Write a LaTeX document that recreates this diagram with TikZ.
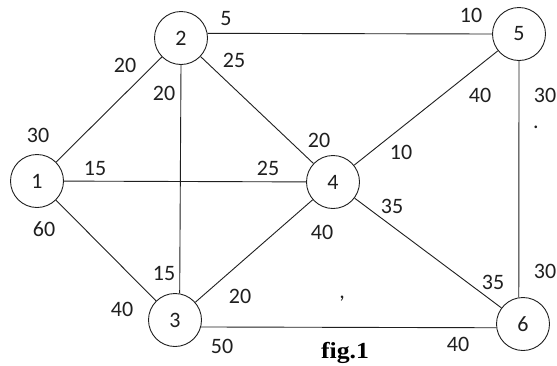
\documentclass[tikz,border=0pt]{standalone}
\usepackage{fontspec}
\setmainfont{Carlito}
\newfontfamily\figfont[FakeStretch=1.12]{Liberation Serif}
\definecolor{ink}{gray}{0.12}
\begin{document}
\begin{tikzpicture}[x=1pt,y=-1pt,
  vtx/.style={circle,draw=ink,line width=0.9pt,minimum size=53pt,inner sep=0pt,text=ink,font=\fontsize{22}{22}\selectfont},
  edge/.style={draw=ink,line width=0.9pt},
  wt/.style={text=ink,font=\fontsize{22}{22}\selectfont,inner sep=0pt}]
\useasboundingbox[fill=white] (0,0) rectangle (557,365);
% vertices
\node[vtx] (n1) at (37,181) {1};
\node[vtx] (n2) at (181,38) {2};
\node[vtx] (n3) at (175,320) {3};
\node[vtx] (n4) at (333,182) {4};
\node[vtx] (n5) at (519,34) {5};
\node[vtx] (n6) at (523,324) {6};
% edges
\draw[edge] (n1) -- (n2);
\draw[edge] (n2.10) -- (n5.west);
\draw[edge] (n2.south) -- (n3.80);
\draw[edge] (n2) -- (n4);
\draw[edge] (n1) -- (n4);
\draw[edge] (n1) -- (n3);
\draw[edge] (n4) -- (n5);
\draw[edge] (n5.south) -- (n6.99);
\draw[edge] (n3) -- (n4);
\draw[edge] (n4) -- (n6);
\draw[edge] (n3.-15) -- (n6.-172);
% weights
\node[wt] (w1) at (226,19) {5};
\node[wt] (w2) at (125,65) {20};
\node[wt] (w3) at (234,60) {25};
\node[wt] (w4) at (164,93) {20};
\node[wt] (w5) at (38,135) {30};
\node[wt] (w6) at (95,168) {15};
\node[wt] (w7) at (268,168) {25};
\node[wt] (w8) at (471,15) {10};
\node[wt] (w9) at (480,95) {40};
\node[wt] (w10) at (545,95) {30};
\node[wt] (w11) at (536,127) {.};
\node[wt] (w12) at (319,140) {20};
\node[wt] (w13) at (401,152) {10};
\node[wt] (w14) at (44,229) {60};
\node[wt] (w15) at (164,273) {15};
\node[wt] (w16) at (122,309) {40};
\node[wt] (w17) at (240,296) {20};
\node[wt] (w18) at (222,346) {50};
\node[wt] (w19) at (392,206) {35};
\node[wt] (w20) at (322,232) {40};
\node[wt] (w21) at (493,282) {35};
\node[wt] (w22) at (545,271) {30};
\node[wt] (w23) at (342,299) {,};
\node[wt] (w24) at (458,344) {40};
\node[wt,text=black,font=\figfont\bfseries\fontsize{23}{23}\selectfont] (fig) at (345,353) {fig.1};
\end{tikzpicture}
\end{document}
